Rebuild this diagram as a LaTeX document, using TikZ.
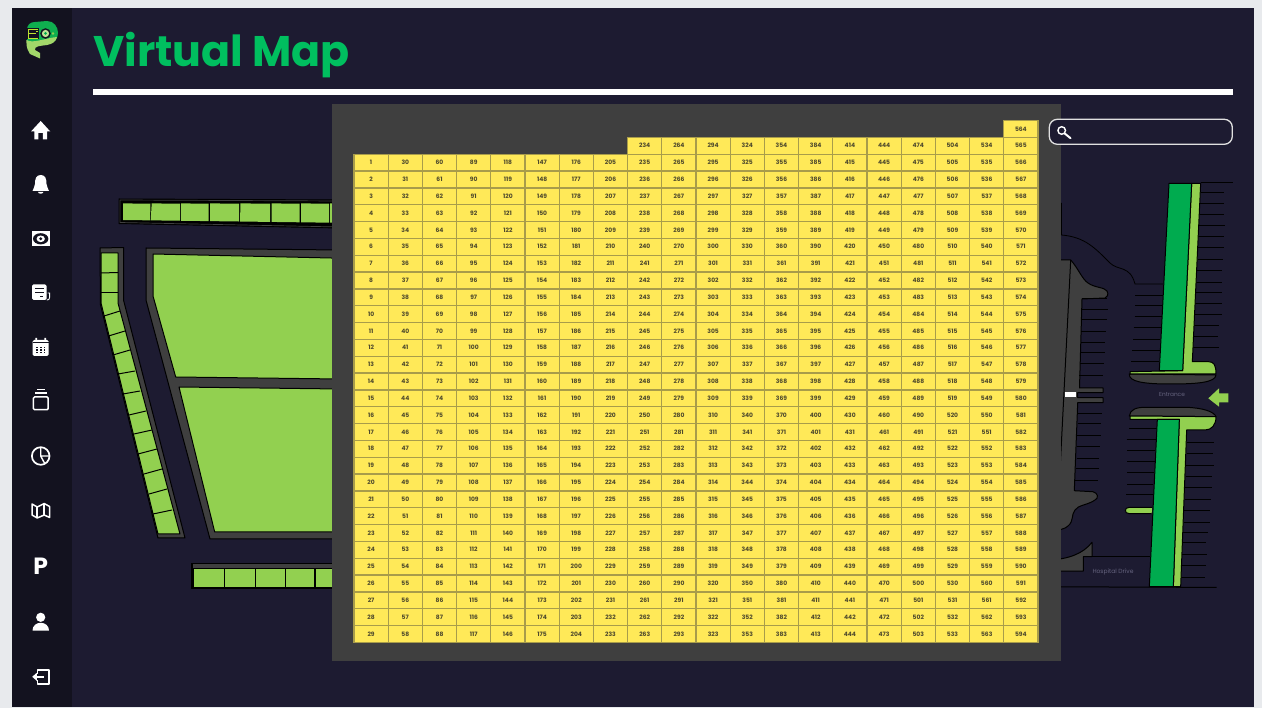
\documentclass[tikz,border=0pt]{standalone}
\usepackage{fontspec}
\setmainfont{Poppins}
\definecolor{pagebg}{HTML}{E8EAED}
\definecolor{navy}{HTML}{1D1B31}
\definecolor{sidebar}{HTML}{13121F}
\definecolor{panelgray}{HTML}{3F3F3F}
\definecolor{lime}{HTML}{92D050}
\definecolor{parkgreen}{HTML}{00AB4F}
\definecolor{titlegreen}{HTML}{00BF5F}
\definecolor{cellfill}{HTML}{FFE958}
\definecolor{celledge}{HTML}{A89C4A}
\definecolor{celltext}{HTML}{4F4A2C}
\definecolor{maplabel}{HTML}{66647F}
\tikzset{
  cellbox/.style={draw=celledge,fill=cellfill,line width=1.3pt,minimum width=34.2pt,minimum height=16.83pt,inner sep=0pt,outer sep=0pt,text=celltext,text height=4.2pt,text depth=0pt,font=\fontsize{6}{6.5}\selectfont\bfseries},
  mapshape/.style={draw=black,line width=1pt,line join=round},
  grass/.style={mapshape,fill=lime},
  road/.style={mapshape,fill=panelgray},
  stall/.style={black,line width=1pt},
  icon/.style={fill=white,draw=none},
  iconline/.style={draw=white,line width=1.7pt},
  holeline/.style={draw=sidebar,line width=1.1pt},
  zthree/.style={shift={(1030,100)},x=0.33333pt,y=-0.33333pt},
  zfour/.style={shift={(1030,370)},x=0.33333pt,y=-0.33333pt},
}
\begin{document}
\begin{tikzpicture}[x=1pt,y=-1pt]
\useasboundingbox (0,0) rectangle (1262,708);
\fill[pagebg] (0,0) rectangle (1262,708);
\fill[navy] (12,8) rectangle (1254,706.5);
\fill[sidebar] (12,8) rectangle (72,706.5);
% title
\node[anchor=base west,inner sep=0pt,text=titlegreen,font=\fontsize{42.8}{48}\selectfont\bfseries] (title) at (93,67) {Virtual Map};
\fill[white] (93,89) rectangle (1233,95);
% --- left map ---
\draw[mapshape,fill=black] (119,199) -- (340,200) -- (340,228) -- (119,223.5) -- cycle;
\draw[mapshape,draw=panelgray,line width=0.7pt,fill=black] (120,200) -- (340,201) -- (340,227) -- (120,222.5) -- cycle;
\foreach \a/\b/\c/\d in {123/150.5/123/150,151.7/180/150.7/180,181/208.5/181/208.5,210/239/210/239,240.5/270/240/270,271.5/299.5/271.5/299.5,301/329/301/329,330/340/330/340}{
  \fill[lime] (\a,203.4) -- (\b,203.7) -- (\d,{220+(\d-123)*0.013}) -- (\c,{220+(\c-123)*0.013}) -- cycle;
}
% left vertical strip
\draw[road] (100,248) -- (123.5,247.5) -- (123.5,300) -- (185,538) -- (158,538) -- (100.5,305) -- cycle;
\draw[grass] (101,253) -- (118,253) -- (118,303) -- (180,534) -- (158,534) -- (101,303) -- cycle;
\foreach \a/\b/\c/\d in {101/273/118/272.5,101/292.5/118/292.5,104/316/120/311,108.5/336/125/331,113/355/130/350,118/374/135/371,123/394/140/391,129/415/146/411,134/434/152/430,138/454/157/449,144/474/162/469,149/494/167/489,153/514/172/510}{
  \draw[stall] (\a,\b) -- (\c,\d);
}
% big block
\draw[road] (146,248) -- (340,250) -- (340,539) -- (210,539) -- (146,300) -- cycle;
\draw[grass] (153,254) -- (340,258.2) -- (340,379) -- (175.7,377) -- (153,296) -- cycle;
\draw[grass] (179,387) -- (340,389) -- (340,532) -- (214.7,532) -- cycle;
% bottom strip
\draw[mapshape,fill=black] (191.5,563) rectangle (340,588);
\fill[panelgray] (193,564) rectangle (340,567.5);
\foreach \a/\b in {194.3/223.7,225/255,256/285,286.3/314.3,315.7/340}{
  \fill[lime] (\a,568.5) rectangle (\b,587);
}
% --- right map ---
\draw[road] (1050,260) -- (1070.7,260) .. controls (1078,268) and (1082,279) .. (1088,283) .. controls (1095,288) and (1104,287) .. (1107,291) .. controls (1109,295) and (1107,297) .. (1105,298) -- (1082,299) -- (1079.5,388) -- (1103,388) -- (1103,392.7) -- (1077.7,392.7) -- (1077.7,397.7) -- (1103,397.7) -- (1103,402.7) -- (1077.7,402.7) -- (1074.3,490.7) -- (1093,491.7) .. controls (1098,493) and (1099,498) .. (1095,500) .. controls (1088,505) and (1078,505) .. (1075,510) .. controls (1071,515) and (1074,521) .. (1068,526) .. controls (1065,529) and (1060,530) .. (1050,531) -- cycle;
\draw[black,line width=1pt] (1070.7,260) -- (1058,510);
\draw[road] (1050,560) .. controls (1068,559) and (1083,554) .. (1092,542.3) -- (1092,556.5) -- (1083.3,556.7) -- (1083.3,571) -- (1050,571) -- cycle;
\fill[white] (1065,392) rectangle (1075.7,397);
\draw[stall] (1083.3,556.7) -- (1150,556.7);
\draw[stall] (1055,586.8) -- (1216.7,587.4);
% contour
\draw[black,line width=0.8pt] (1061.5,203) -- (1061.5,235) .. controls (1085,237) and (1095,248) .. (1110,263) .. controls (1118,271) and (1130,265) .. (1135,284) -- (1163,284);
\begin{scope}[zthree]
  \foreach \v/\a/\b in {248/512/610,277/512/583,311/510/583,344/508/583,378/506/584,410/505/583,443/504/581,479/503/579,513/501/575,547/498/575,579/497/575,612/494/575,645/492/575,678/490/568,711/488/565,744/486/567,587/316/398,618/316/397,651/314/395,684/311/393,719/309/391,751/307/390,786/303/388,597/157/230,628/155/233,660/155/230,695/154/229,727/153/226,759/152/224,792/150/222,828/148/220}{
    \draw[stall] (\a,\v) -- (\b,\v);
  }
  \draw[road] (298,822) .. controls (296,845) and (340,852) .. (420,852) .. controls (500,852) and (556,848) .. (558,825) -- cycle;
  \draw[grass] (485,250) -- (512,250) -- (487,785) -- (535,785) .. controls (552,785) and (558,795) .. (558,822) -- (300,822) -- (300,815) -- (458,812) -- cycle;
  \draw[mapshape,fill=parkgreen] (417,250) -- (485,250) -- (458,812) -- (388,812) -- cycle;
\end{scope}
\node[inner sep=0pt,text=maplabel,font=\fontsize{5.8}{6}\selectfont] (entrance) at (1172,395) {Entrance};
\node[inner sep=0pt,text=maplabel,font=\fontsize{6}{7}\selectfont] (hospital) at (1113,571.7) {Hospital Drive};
\begin{scope}[zfour]
  \foreach \v/\a/\b in {175/297/380,210/290/378,243/292/376,276/292/374,309/292/372,343/291/370,375/288/369,218/470/552,252/470/548,286/468/552,320/467/546,352/465/545,389/464/543,422/462/541,457/461/539,487/459/534,519/458/528,553/457/531,587/455/528,624/453/526,131/145/215,162/144/213,198/142/212,230/141/210,265/140/207,297/138/207,331/136/205}{
    \draw[stall] (\a,\v) -- (\b,\v);
  }
  \fill[lime] (535,85) -- (567,55) -- (567,70) -- (595,70) -- (595,97) -- (567,97) -- (567,110) -- cycle;
  \draw[road] (298,138) .. controls (300,118) and (320,112) .. (345,112) -- (470,112) .. controls (520,114) and (552,125) .. (558,140) -- cycle;
  \draw[grass] (300,138) -- (558,140) .. controls (558,165) and (545,180) .. (525,180) -- (470,180) -- (452,650) -- (430,650) -- (448,148) -- (300,148) -- cycle;
  \draw[mapshape,fill=parkgreen] (382,148) -- (448,148) -- (430,650) -- (358,650) -- cycle;
  \draw[grass] (366,412) -- (298,412) .. controls (282,412) and (282,431) .. (298,431) -- (365,431);
\end{scope}
% --- panel + grid ---
\fill[panelgray] (332,104) rectangle (1061,661);
\foreach \c/\s in {0/1,1/30,2/60,3/89,4/118,5/147,6/176,7/205,8/235,9/265,10/295,11/325,12/355,13/385,14/415,15/445,16/475,17/505,18/535,19/566}{
  \foreach \r in {0,...,28}{
    \pgfmathtruncatemacro{\lab}{\s+\r}
    \ifnum\c=14 \ifnum\r=28 \def\lab{444}\fi\fi
    \node[cellbox] (c\c-\r) at ({354+17.1+34.2*\c},{154.3+8.415+16.83*\r}) {\lab};
  }
}
\foreach \c/\lab in {8/234,9/264,10/294,11/324,12/354,13/384,14/414,15/444,16/474,17/504,18/534,19/565}{
  \node[cellbox] (top\c) at ({354+17.1+34.2*\c},{154.3-8.415}) {\lab};
}
\node[cellbox] (toplast) at ({354+17.1+34.2*19},{154.3-8.415-16.83}) {564};
% search box
\node[draw=white!88!black,fill=navy,line width=1.3pt,rounded corners=8pt,minimum width=183pt,minimum height=25pt,inner sep=0pt,outer sep=0pt] (search) at (1140.8,131.8) {};
\draw[white,line width=1.4pt] (1061.7,130.5) circle (3.8);
\draw[white,line width=2pt,line cap=round] (1064.7,133.5) -- (1070.5,138.2);
% --- logo ---
\fill[parkgreen!90!lime] (27,30) .. controls (27,25) and (30,22) .. (35,22) -- (47,21) .. controls (54,21) and (58,27) .. (58,33) .. controls (58,39) and (54,43) .. (49,44) -- (33,44) -- (27,44) -- cycle;
\fill[lime!85!white] (26.5,40) .. controls (33,44) and (45,38) .. (57,37) .. controls (56,42) and (52,44) .. (47,45) .. controls (40,46) and (34,46) .. (35,50) -- (40,53) -- (40,58.5) -- (30,54) .. controls (26,48) and (26.5,44) .. (26.5,40) -- cycle;
\fill[sidebar] (26,28) rectangle (39,39);
\draw[lime!60!yellow,line width=0.9pt] (37.5,29) -- (28,29) -- (28,38) -- (37.5,38) (28,33.5) -- (36,33.5) (36,31.5) -- (38,31.5);
\fill[sidebar] (45.5,33.5) circle (5.3);
\fill[lime!60!white] (45.5,33.5) circle (3.6);
\fill[parkgreen] (45.5,33.5) circle (1.5);
\fill[lime] (53,33.5) circle (1.3);
% --- sidebar icons ---
\fill[icon] (40.7,121) -- (50.3,131.5) -- (47,131.5) -- (47,139.5) -- (42.8,139.5) -- (42.8,133) -- (38.4,133) -- (38.4,139.5) -- (34.4,139.5) -- (34.4,131.5) -- (31,131.5) -- cycle;
% bell
\fill[icon] (40.7,175) .. controls (36,175) and (35,179) .. (35,184) .. controls (35,187) and (33,188.5) .. (32.5,191) -- (49,191) .. controls (48.5,188.5) and (46.5,187) .. (46.5,184) .. controls (46.5,179) and (45.5,175) .. (40.7,175) -- cycle;
\fill[icon] (38,192) -- (43.4,192) .. controls (43,194.3) and (38.4,194.3) .. (38,192) -- cycle;
% monitor eye
\fill[icon] (31.5,231.5) rectangle (50,245.7);
\fill[sidebar] (40.7,238.8) ellipse (7.7 and 5.6);
\fill[icon] (40.7,238.8) ellipse (4.2 and 3.3);
\fill[sidebar] (40.7,238.8) circle (1.6);
% receipt
\fill[icon,rounded corners=1.5pt] (32,284.5) rectangle (46.7,300);
\draw[white,line width=0.9pt] (47.6,293) -- (49.6,293) -- (49.6,297.5) .. controls (49.6,299.5) and (48.5,300) .. (46.7,300);
\draw[holeline] (35,288.5) -- (43.5,288.5) (35,292.7) -- (43.5,292.7) (40,296.7) -- (43.3,296.7);
% calendar
\fill[icon,rounded corners=1.5pt] (32.7,340) rectangle (48.7,356);
\fill[icon] (35.4,338) rectangle (37,341) (44.3,338) rectangle (46,341);
\draw[holeline,line width=0.6pt] (33,342.8) -- (48.5,342.8);
\foreach \a in {36.8,40.7,44.6}{\foreach \b in {347.3,350,352.7}{\fill[sidebar] (\a-0.8,\b-0.7) rectangle (\a+0.8,\b+0.7);}}
% stack
\draw[iconline,line width=1.5pt,rounded corners=1.2pt] (33.4,397) rectangle (48.2,409.7);
\draw[iconline,line width=1.1pt] (35.2,393) -- (46.5,393);
\draw[iconline,line width=1.1pt] (37.2,389.8) -- (44.5,389.8);
% pie
\draw[iconline] (40.7,456) circle (8.8);
\draw[iconline,line width=1.4pt] (40.7,447.5) -- (40.7,456) -- (49,456) (40.7,456) -- (45,464);
% map
\draw[iconline,line join=round,line width=1.5pt] (32,504) -- (37.2,507) -- (44.2,503.5) -- (49.6,506.5) -- (49.6,517.5) -- (44.2,515) -- (37.2,518) -- (32,515) -- cycle;
\draw[iconline,line width=1.5pt] (37.2,507) -- (37.2,518) (44.2,503.5) -- (44.2,515);
% P
\node[inner sep=0pt,text=white,font=\fontsize{23.5}{24}\selectfont\bfseries] (parking) at (40.7,566.5) {P};
% user
\fill[icon] (40.7,617.3) circle (4.6);
\fill[icon] (32.5,630.7) .. controls (32.5,625.5) and (36.5,622.8) .. (40.7,622.8) .. controls (45,622.8) and (49,625.5) .. (49,630.7) -- cycle;
% logout
\draw[iconline,line width=1.5pt,line join=round] (37.5,674) -- (37.5,670) -- (49.2,670) -- (49.2,684) -- (37.5,684) -- (37.5,680);
\draw[iconline,line width=1.8pt] (35,676.8) -- (44,676.8);
\fill[icon] (32.2,676.8) -- (36.8,672.8) -- (36.8,680.8) -- cycle;
\end{tikzpicture}
\end{document}
